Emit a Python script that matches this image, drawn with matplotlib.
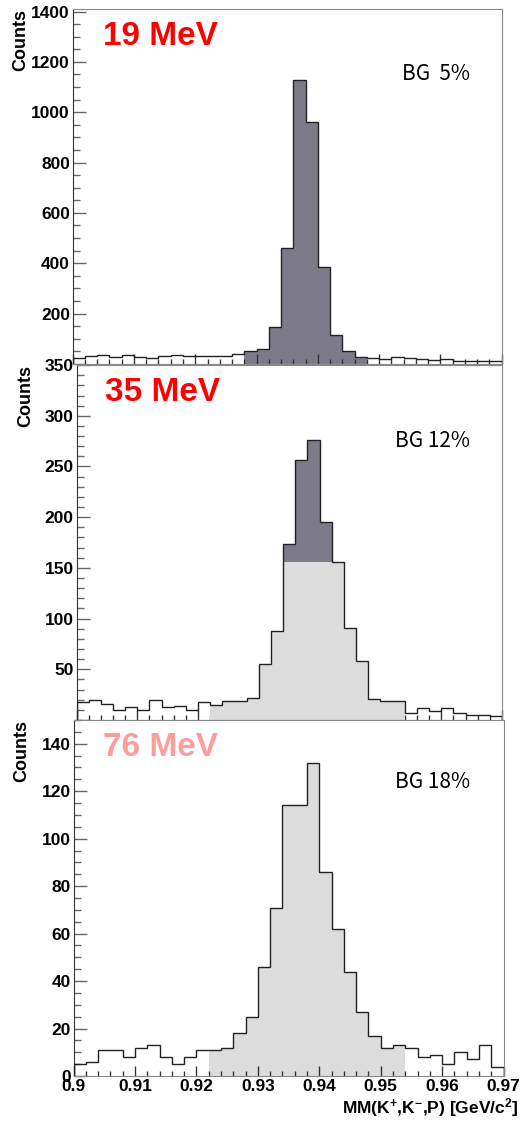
import numpy as np
import matplotlib
matplotlib.use('Agg')
import matplotlib.pyplot as plt
from matplotlib.ticker import MultipleLocator, FuncFormatter

plt.rcParams['font.family'] = ['Liberation Sans', 'DejaVu Sans']
plt.rcParams['font.weight'] = 'bold'
plt.rcParams['mathtext.fontset'] = 'custom'
plt.rcParams['mathtext.bf'] = 'Liberation Sans:bold'
plt.rcParams['mathtext.default'] = 'bf'

# missing mass bins, 2 MeV wide
edges = np.linspace(0.90, 0.97, 36)

counts_19 = [22, 31, 34, 27, 34, 26, 25, 30, 35, 33, 33, 30, 30, 38, 51, 58, 148, 461,
             1127, 963, 387, 116, 52, 26, 25, 20, 26, 22, 20, 16, 21, 12, 12, 12, 12]
counts_35 = [18, 20, 16, 10, 13, 10, 20, 13, 14, 10, 18, 15, 19, 19, 22, 55, 88, 174,
             256, 276, 195, 156, 91, 58, 21, 19, 19, 7, 12, 9, 12, 7, 5, 5, 4]
counts_76 = [5, 6, 11, 11, 8, 12, 13, 8, 5, 8, 11, 11, 12, 18, 25, 46, 71, 114,
             114, 132, 86, 62, 44, 27, 17, 12, 13, 12, 8, 9, 5, 10, 7, 13, 4]

labels = ['19 MeV', '35 MeV', '76 MeV']
label_colors = ['#ff0000', '#ff0000', '#ff9c9c']
bg_text = ['BG  5%', 'BG 12%', 'BG 18%']

# bin index ranges used for the shaded regions
peak_19 = (14, 24)
peak_35 = (17, 21)
side_35 = (11, 27)
bg_cut_35 = 156
side_76 = (11, 27)

dark = '#7e7b88'
light = '#dcdcdc'

fig = plt.figure(figsize=(5.24, 11.24), dpi=100)
ax1 = fig.add_axes([0.1387, 0.6762, 0.8187, 0.3158])
ax2 = fig.add_axes([0.1460, 0.3594, 0.8120, 0.3158])
ax3 = fig.add_axes([0.1403, 0.0427, 0.8206, 0.3167])
axes = [ax1, ax2, ax3]

# top: 19 MeV
a, b = peak_19
ax1.stairs(counts_19[a:b], edges[a:b + 1], fill=True, color=dark, zorder=1)
ax1.stairs(counts_19, edges, color='#222222', lw=1.0, zorder=3)

# middle: 35 MeV
a, b = peak_35
ax2.stairs(counts_35[a:b], edges[a:b + 1], fill=True, color=dark, zorder=1)
a, b = side_35
ax2.stairs(np.minimum(counts_35[a:b], bg_cut_35), edges[a:b + 1], fill=True, color=light, zorder=2)
ax2.stairs(counts_35, edges, color='#222222', lw=1.0, zorder=3)

# bottom: 76 MeV
a, b = side_76
ax3.stairs(counts_76[a:b], edges[a:b + 1], fill=True, color=light, zorder=1)
ax3.stairs(counts_76, edges, color='#222222', lw=1.0, zorder=3)

ylims = [1410, 350, 150]
ymaj = [200, 50, 20]
ymin = [50, 10, 5]
label_x = [0.071, 0.067, 0.069]
bg_x = [0.926, 0.925, 0.922]
bg_y = [0.80, 0.769, 0.809]

for i, ax in enumerate(axes):
    ax.set_xlim(0.90, 0.97)
    ax.set_ylim(0, ylims[i])
    ax.yaxis.set_major_locator(MultipleLocator(ymaj[i]))
    ax.yaxis.set_minor_locator(MultipleLocator(ymin[i]))
    ax.xaxis.set_major_locator(MultipleLocator(0.01))
    ax.xaxis.set_minor_locator(MultipleLocator(0.002))
    if i < 2:
        ax.yaxis.set_major_formatter(FuncFormatter(lambda v, p: '' if v == 0 else f'{v:.0f}'))
        ax.xaxis.set_major_formatter(FuncFormatter(lambda v, p: ''))
    else:
        ax.yaxis.set_major_formatter(FuncFormatter(lambda v, p: f'{v:.0f}'))
        ax.xaxis.set_major_formatter(FuncFormatter(lambda v, p: f'{v:.2f}'.rstrip('0')))
    ax.tick_params(axis='y', which='major', direction='in', length=9, width=1,
                   color='#666666', labelsize=12.5, pad=2)
    ax.tick_params(axis='y', which='minor', direction='in', length=5, width=1, color='#666666')
    ax.tick_params(axis='x', which='major', direction='in', length=7, width=1,
                   color='#333333', labelsize=12.5, pad=2)
    ax.tick_params(axis='x', which='minor', direction='in', length=3.5, width=1, color='#333333')
    for side in ['top', 'right', 'bottom']:
        ax.spines[side].set_color('#888888')
    ax.spines['left'].set_color('#333333')
    ax.set_facecolor('white')
    ax.text(-0.12, 1.0, 'Counts', rotation=90, transform=ax.transAxes,
            ha='center', va='top', fontsize=13, fontweight='bold')
    ax.text(label_x[i], 0.899, labels[i], transform=ax.transAxes, ha='left',
            va='baseline', fontsize=24, fontweight='bold', color=label_colors[i])
    ax.text(bg_x[i], bg_y[i], bg_text[i], transform=ax.transAxes, ha='right',
            va='baseline', fontsize=15, fontweight='normal',
            family=['Noto Sans CJK JP', 'DejaVu Sans'])

ax3.text(1.035, -0.088, r'MM(K$^{+}$,K$^{-}$,P) [GeV/c$^{2}$]', transform=ax3.transAxes,
         ha='right', va='center', fontsize=12.5, fontweight='bold')

fig.savefig('out.png', dpi=100)
